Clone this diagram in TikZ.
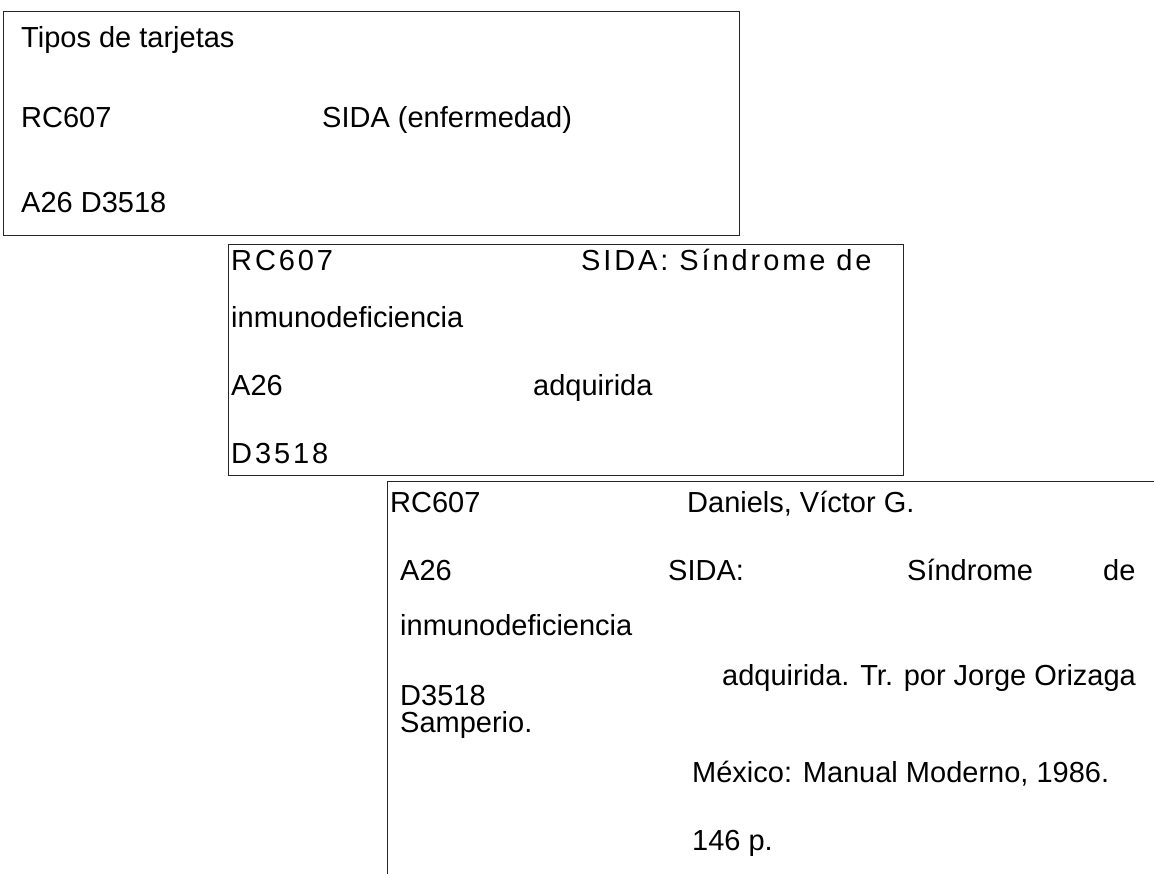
\documentclass[tikz,border=0pt]{standalone}
\usepackage{fontspec}
\setmainfont{Liberation Sans}
\newfontfamily\spacedfont[LetterSpace=10]{Liberation Sans}
\begin{document}
\begin{tikzpicture}[x=1pt,y=-1pt,
  txt/.style={anchor=base west,inner sep=0pt,font=\fontsize{29}{34}\selectfont},
  stxt/.style={anchor=base west,inner sep=0pt,font=\fontsize{29}{34}\spacedfont},
  card/.style={draw=black!85,line width=1pt}]
\useasboundingbox (0,0) rectangle (1154,874);
% card 1
\draw[card] (3,12) rectangle (739,236);
\node[txt] (t1) at (21,48) {Tipos de tarjetas};
\node[txt] (c1a) at (21,128) {RC607};
\node[txt] (c1b) at (322,128) {SIDA (enfermedad)};
\node[txt] (c1c) at (21,213) {A26 D3518};
% card 2
\draw[card,fill=white] (228,245) rectangle (903,475);
\node[stxt] (c2a) at (231,271) {RC607};
\node[stxt] (c2b) at (581,271) {SIDA: Síndrome de};
\node[txt] (c2c) at (231,328) {inmunodeficiencia};
\node[txt] (c2d) at (231,396) {A26};
\node[txt] (c2e) at (533,396) {adquirida};
\node[stxt] (c2f) at (231,464) {D3518};
% card 3
\draw[card] (1154,481) -- (387,481) -- (387,874);
\node[txt] (c3a) at (390,512) {RC607};
\node[txt] (c3b) at (687,512) {Daniels, Víctor G.};
\node[txt] (c3c) at (400,580) {A26};
\node[txt] (c3d) at (668,580) {SIDA:};
\node[txt] (c3e) at (907,580) {Síndrome};
\node[txt] (c3f) at (1103,580) {de};
\node[txt] (c3g) at (400,635) {inmunodeficiencia};
\node[txt] (c3h) at (722,685) {adquirida. Tr. por Jorge Orizaga};
\node[txt] (c3i) at (400,705) {D3518};
\node[txt] (c3j) at (400,732) {Samperio.};
\node[txt] (c3k) at (692,782) {México: Manual Moderno, 1986.};
\node[txt] (c3l) at (692,850) {146 p.};
\end{tikzpicture}
\end{document}
